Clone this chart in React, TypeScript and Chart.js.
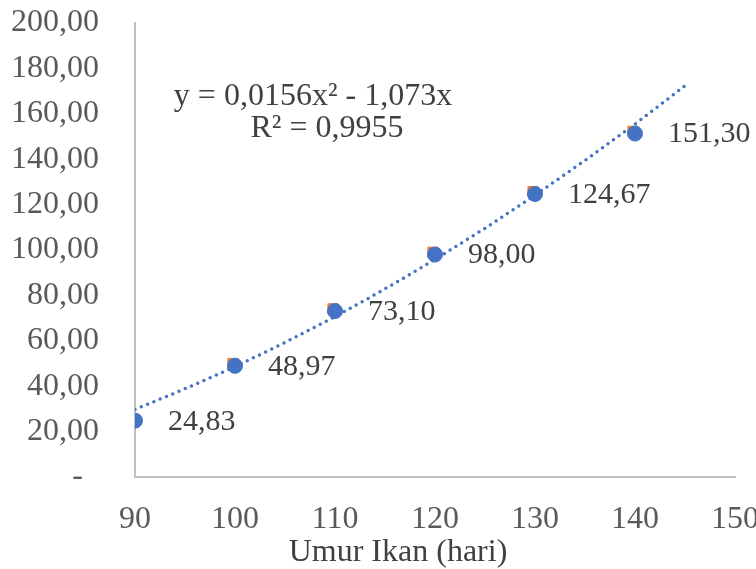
import React, { useEffect, useRef } from "react";
import { Chart, registerables } from "chart.js";

Chart.register(...registerables);

const days = [90, 100, 110, 120, 130, 140];
const weights = [24.83, 48.97, 73.1, 98.0, 124.67, 151.3];
const weightLabels = ["24,83", "48,97", "73,10", "98,00", "124,67", "151,30"];

const orangeDays = [99.8, 109.8, 119.8, 129.8, 139.8];
const orangeWeights = [50.0, 74.1, 99.0, 125.7, 152.3];

const trendDays = [90, 95, 100, 105, 110, 115, 120, 125, 130, 135, 140, 145];
const trendValues = [29.8, 38.9, 48.7, 59.3, 70.7, 82.9, 95.9, 109.6, 124.2, 139.5, 155.5, 172.4];

const yTickLabels = ["-  ", "20,00", "40,00", "60,00", "80,00", "100,00", "120,00", "140,00", "160,00", "180,00", "200,00"];
const xTickLabels = ["90", "100", "110", "120", "130", "140", "150"];

const equationLines = ["y = 0,0156x² - 1,073x", "R² = 0,9955"];
const xTitle = "Umur Ikan (hari)";

const FONT = "'Liberation Serif', 'Times New Roman', serif";

export default function App() {
  const ref = useRef<HTMLCanvasElement | null>(null);

  useEffect(() => {
    if (!ref.current) return;

    const labelPlugin = {
      id: "labels",
      afterDraw(chart: any) {
        const ctx = chart.ctx;
        const meta = chart.getDatasetMeta(0);
        const area = chart.chartArea;
        ctx.save();
        ctx.font = `30px ${FONT}`;
        ctx.fillStyle = "#404040";
        ctx.textAlign = "left";
        ctx.textBaseline = "middle";
        meta.data.forEach((pt: any, i: number) => {
          ctx.fillText(weightLabels[i], pt.x + 33, pt.y + 1);
        });
        // equation
        ctx.font = `32px ${FONT}`;
        ctx.textAlign = "center";
        ctx.textBaseline = "alphabetic";
        ctx.fillText(equationLines[0], area.left + 178, area.top + 82);
        ctx.fillText(equationLines[1], area.left + 192, area.top + 114);
        // axis title
        ctx.fillStyle = "#404040";
        ctx.textBaseline = "middle";
        ctx.fillText(xTitle, area.left + 263, 553);
        ctx.restore();
      },
    };

    const chart = new Chart(ref.current, {
      type: "scatter",
      data: {
        datasets: [
          {
            label: "Bobot",
            data: days.map((d, i) => ({ x: d, y: weights[i] })),
            backgroundColor: "#4472C4",
            borderColor: "#4472C4",
            pointRadius: 7.5,
            pointHoverRadius: 7.5,
            pointStyle: "circle",
            order: 1,
          },
          {
            label: "Bobot 2",
            data: orangeDays.map((d, i) => ({ x: d, y: orangeWeights[i] })),
            backgroundColor: "#ED7D31",
            borderColor: "#ED7D31",
            pointRadius: 7.2,
            pointStyle: "rect",
            order: 2,
          },
          {
            label: "Trend",
            type: "line",
            data: trendDays.map((d, i) => ({ x: d, y: trendValues[i] })),
            borderColor: "#4472C4",
            borderWidth: 3.5,
            borderDash: [0, 6.8],
            borderCapStyle: "round",
            cubicInterpolationMode: "monotone",
            pointRadius: 0,
            fill: false,
            showLine: true,
            order: 3,
          } as any,
        ],
      },
      options: {
        animation: false,
        responsive: true,
        maintainAspectRatio: false,
        events: [],
        layout: { padding: { top: 23, right: 21, left: 0, bottom: 0 } },
        plugins: {
          legend: { display: false },
          tooltip: { enabled: false },
        },
        scales: {
          x: {
            type: "linear",
            min: 90,
            max: 150,
            grid: { display: false, drawTicks: false },
            border: { display: true, color: "#BFBFBF", width: 2 },
            ticks: {
              stepSize: 10,
              padding: 23,
              color: "#595959",
              font: { family: FONT, size: 32 },
              callback: (_v: any, i: number) => xTickLabels[i],
              maxRotation: 0,
              autoSkip: false,
            },
            afterFit: (s: any) => {
              s.height = 92;
              s.paddingLeft = 0;
              s.paddingRight = 0;
            },
          },
          y: {
            type: "linear",
            min: 0,
            max: 200,
            grid: { display: false, drawTicks: false },
            border: { display: true, color: "#BFBFBF", width: 2 },
            ticks: {
              stepSize: 20,
              padding: 36,
              color: "#595959",
              font: { family: FONT, size: 32 },
              callback: (_v: any, i: number) => yTickLabels[i],
              autoSkip: false,
            },
            afterFit: (s: any) => {
              s.width = 135;
              s.paddingTop = 0;
              s.paddingBottom = 0;
            },
          },
        },
      },
      plugins: [labelPlugin],
    } as any);

    return () => chart.destroy();
  }, []);

  return (
    <div style={{ position: "fixed", left: 0, top: 0, width: 756, height: 569, background: "#fff" }}>
      <canvas ref={ref} />
    </div>
  );
}
